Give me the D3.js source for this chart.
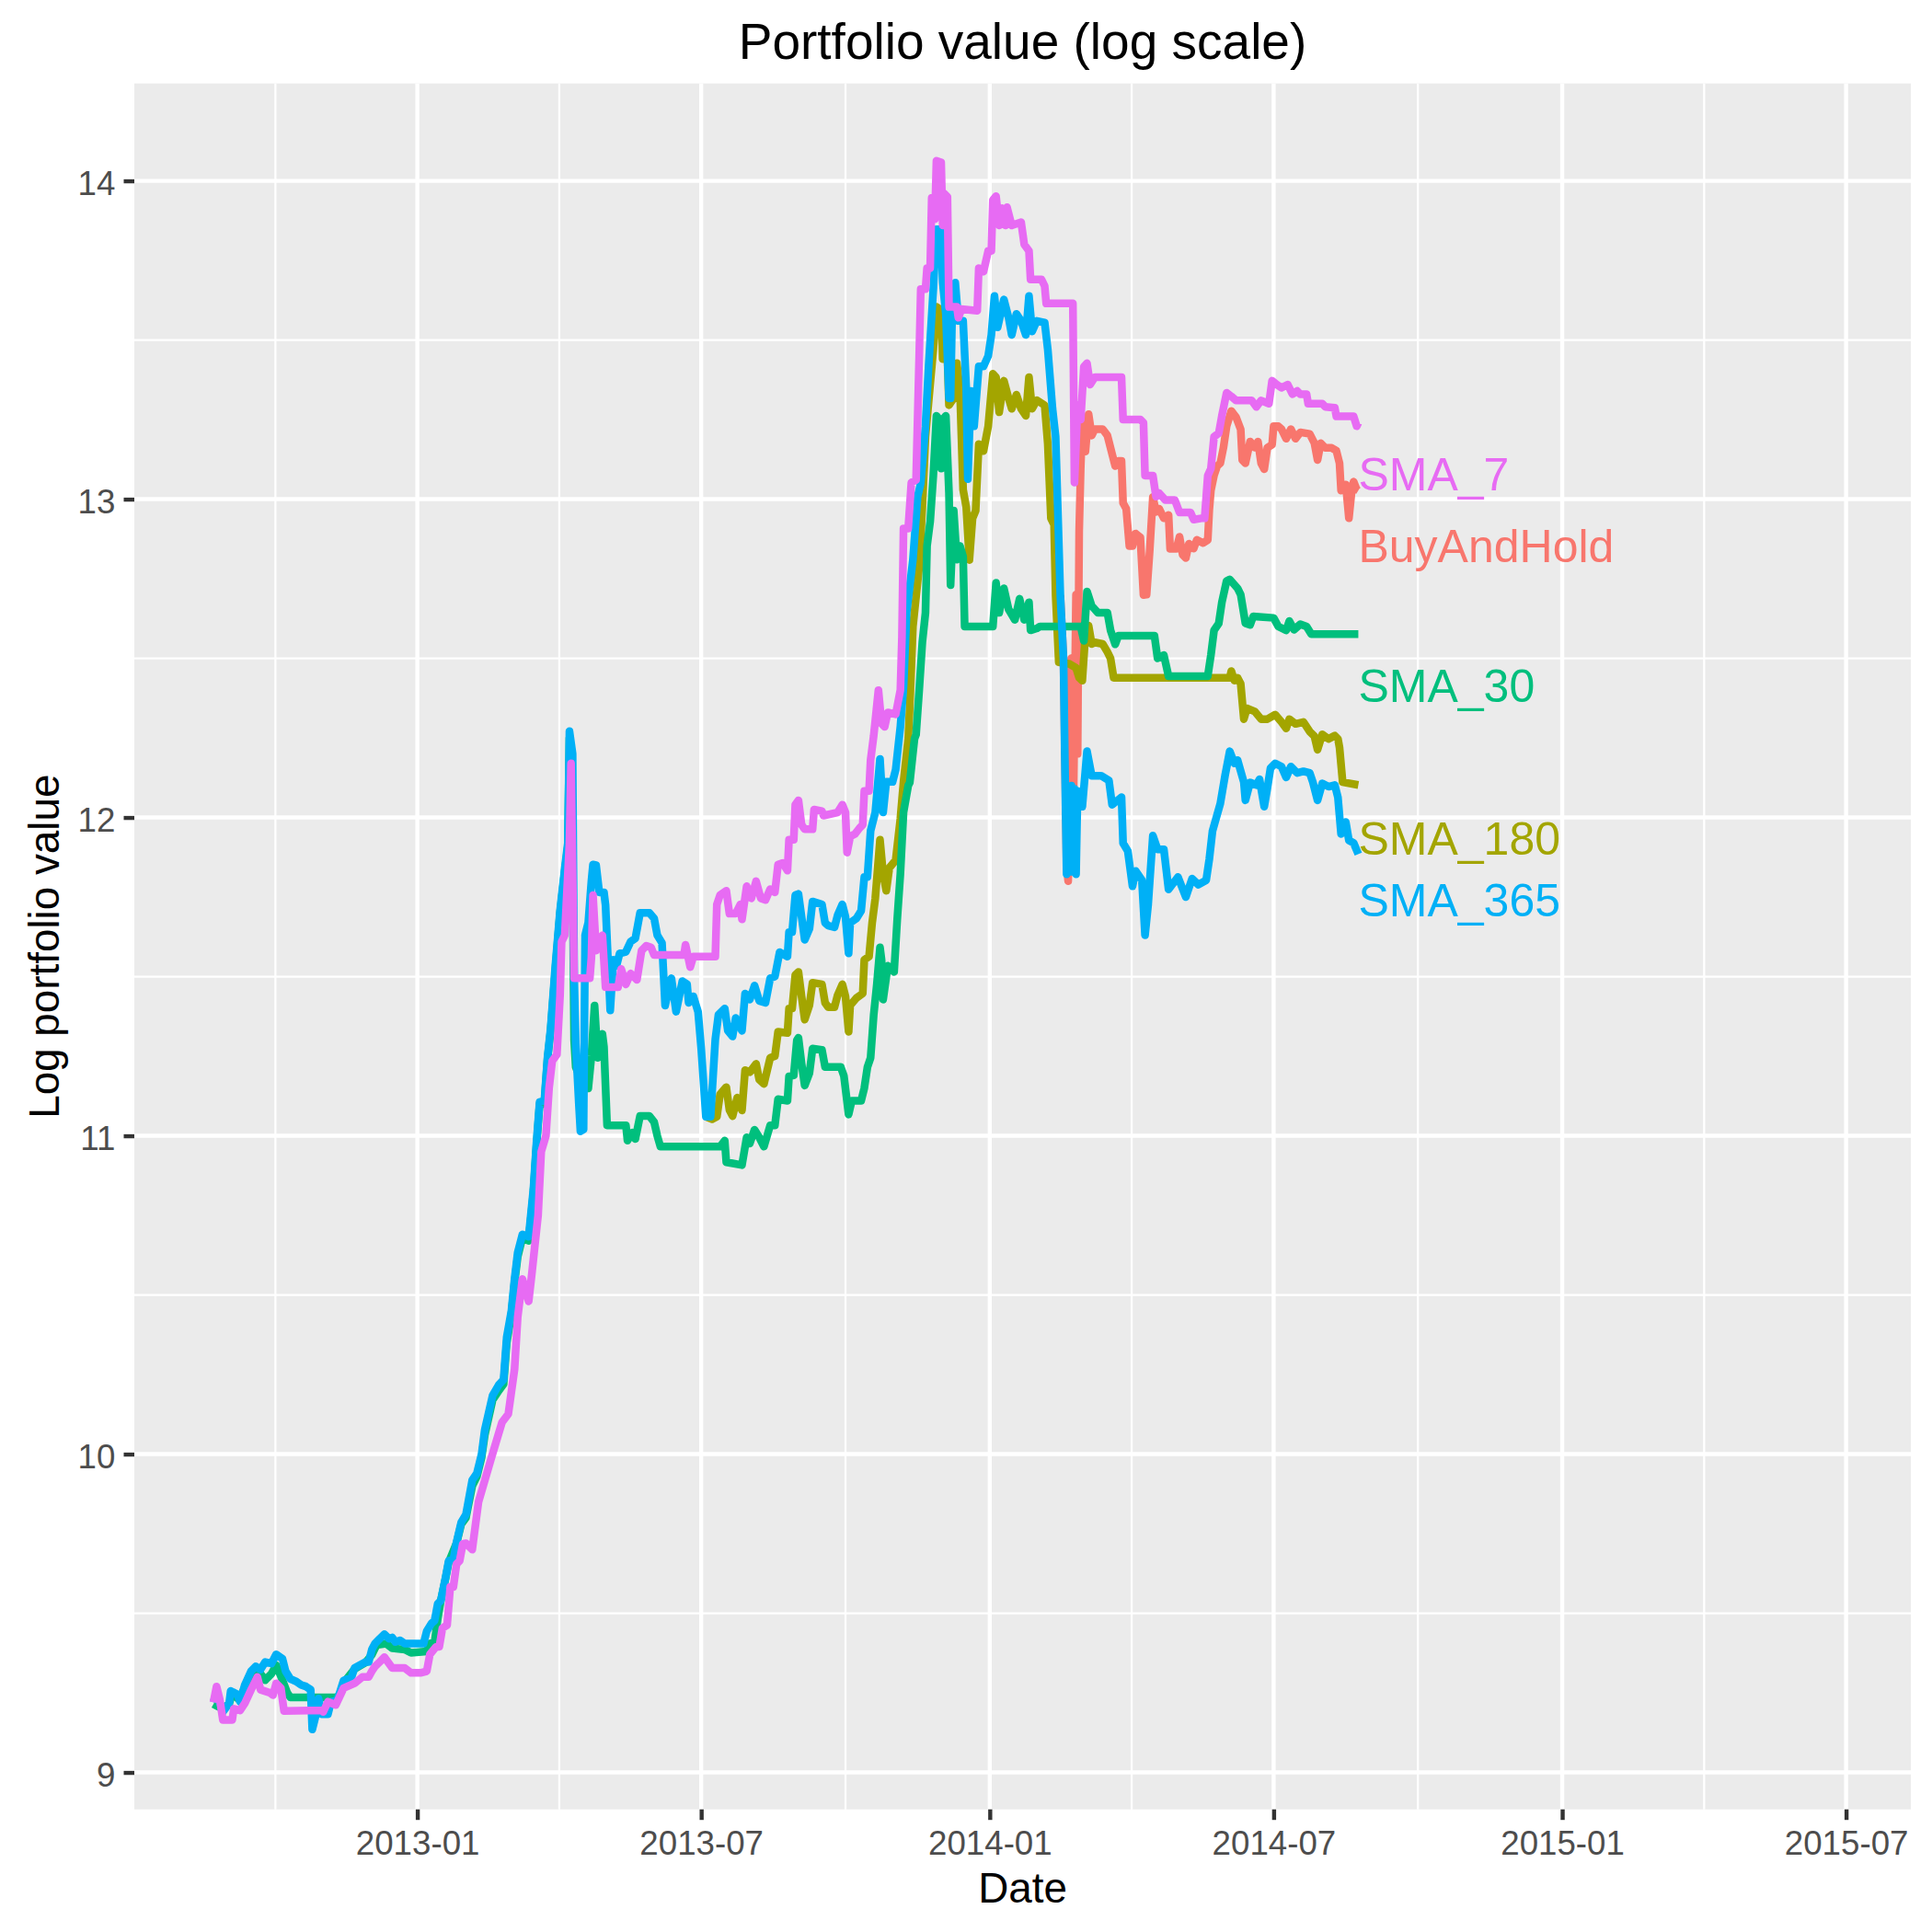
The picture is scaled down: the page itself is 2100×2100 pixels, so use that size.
<!DOCTYPE html>
<html><head><meta charset="utf-8">
<script src="https://cdn.jsdelivr.net/npm/d3@7"></script>
<style>html,body{margin:0;padding:0;background:#fff}</style>
</head><body>
<svg id="chart" width="2100" height="2100" xmlns="http://www.w3.org/2000/svg"></svg>
<script>
// ---------------- data ----------------
const seriesNames  = ["BuyAndHold", "SMA_180", "SMA_30", "SMA_365", "SMA_7"];
const seriesColors = ["#F8766D", "#A3A500", "#00BF7D", "#00B0F6", "#E76BF3"];
const labelValues  = [12.855, 11.935, 12.415, 11.74, 13.078];

const xTickDates  = ["2013-01-01", "2013-07-01", "2014-01-01", "2014-07-01", "2015-01-01", "2015-07-01"];
const xTickLabels = ["2013-01", "2013-07", "2014-01", "2014-07", "2015-01", "2015-07"];
const yTicks      = [9, 10, 11, 12, 13, 14];
const yTickLabels = ["9", "10", "11", "12", "13", "14"];
const xLimits = ["2012-07-04T13:12:00Z", "2015-08-11T07:00:00Z"];
const yLimits = [8.884, 14.306];

const titleText = "Portfolio value (log scale)";
const xTitle = "Date";
const yTitle = "Log portfolio value";

const buyAndHold = [
["2014-02-15",12.698],["2014-02-17",12.5],["2014-02-19",11.85],["2014-02-20",11.80],["2014-02-22",12.5],["2014-02-23",11.9],
["2014-02-25",12.7],["2014-02-26",12.2],["2014-02-27",12.9],["2014-02-28",13.10],["2014-03-01",13.238],["2014-03-03",13.15],
["2014-03-05",13.267],["2014-03-07",13.20],["2014-03-09",13.22],["2014-03-14",13.22],["2014-03-17",13.2],["2014-03-20",13.142],
["2014-03-22",13.104],["2014-03-24",13.12],["2014-03-26",13.12],["2014-03-27",12.988],["2014-03-29",12.97],["2014-03-31",12.853],
["2014-04-02",12.853],["2014-04-04",12.892],["2014-04-07",12.88],["2014-04-09",12.699],["2014-04-11",12.70],["2014-04-13",12.84],
["2014-04-15",13.007],["2014-04-17",12.96],["2014-04-19",12.97],["2014-04-22",12.94],["2014-04-25",12.95],["2014-04-26",12.844],
["2014-04-30",12.844],["2014-05-02",12.882],["2014-05-04",12.825],["2014-05-06",12.815],["2014-05-08",12.86],["2014-05-11",12.845],
["2014-05-13",12.872],["2014-05-17",12.862],["2014-05-20",12.872],["2014-05-21",12.969],["2014-05-22",13.027],["2014-05-24",13.075],
["2014-05-26",13.104],["2014-05-28",13.113],["2014-05-30",13.162],["2014-06-01",13.229],["2014-06-04",13.277],["2014-06-07",13.258],
["2014-06-10",13.219],["2014-06-11",13.123],["2014-06-13",13.113],["2014-06-16",13.181],["2014-06-19",13.162],["2014-06-21",13.181],
["2014-06-23",13.113],["2014-06-25",13.094],["2014-06-27",13.162],["2014-06-30",13.171],["2014-07-01",13.229],["2014-07-04",13.229],
["2014-07-06",13.22],["2014-07-09",13.19],["2014-07-12",13.22],["2014-07-15",13.19],["2014-07-18",13.21],["2014-07-24",13.205],
["2014-07-27",13.176],["2014-07-29",13.123],["2014-07-31",13.176],["2014-08-03",13.161],["2014-08-07",13.161],["2014-08-10",13.152],
["2014-08-12",13.113],["2014-08-13",13.027],["2014-08-16",13.046],["2014-08-18",12.94],["2014-08-20",13.036],["2014-08-21",13.055],
["2014-08-23",13.03],["2014-08-24",13.027]
];

const sma180 = [
["2013-07-04",11.06],["2013-07-08",11.052],["2013-07-11",11.06],["2013-07-13",11.13],["2013-07-17",11.153],["2013-07-19",11.081],
["2013-07-21",11.062],["2013-07-24",11.12],["2013-07-27",11.08],["2013-07-29",11.206],["2013-08-01",11.20],["2013-08-05",11.226],
["2013-08-07",11.177],["2013-08-10",11.163],["2013-08-14",11.245],["2013-08-17",11.25],["2013-08-19",11.327],["2013-08-25",11.323],
["2013-08-26",11.40],["2013-08-28",11.40],["2013-08-30",11.505],["2013-09-01",11.515],["2013-09-03",11.438],["2013-09-05",11.365],
["2013-09-08",11.41],["2013-09-10",11.481],["2013-09-16",11.476],["2013-09-18",11.418],["2013-09-20",11.404],["2013-09-24",11.404],
["2013-09-26",11.442],["2013-09-29",11.476],["2013-10-01",11.438],["2013-10-03",11.327],["2013-10-04",11.41],["2013-10-08",11.433],
["2013-10-12",11.447],["2013-10-13",11.553],["2013-10-16",11.563],["2013-10-18",11.669],["2013-10-20",11.746],["2013-10-23",11.93],
["2013-10-25",11.823],["2013-10-27",11.77],["2013-10-29",11.842],["2013-11-02",11.866],["2013-11-05",11.996],["2013-11-07",12.112],
["2013-11-10",12.247],["2013-11-11",12.35],["2013-11-13",12.6],["2013-11-17",12.787],["2013-11-19",12.975],["2013-11-21",13.196],
["2013-11-24",13.361],["2013-11-26",13.47],["2013-11-28",13.604],["2013-12-01",13.594],["2013-12-02",13.44],["2013-12-04",13.60],
["2013-12-06",13.295],["2013-12-09",13.317],["2013-12-11",13.427],["2013-12-13",13.34],["2013-12-15",13.03],["2013-12-17",12.975],
["2013-12-19",12.809],["2013-12-21",12.94],["2013-12-23",12.964],["2013-12-25",13.173],["2013-12-28",13.151],["2013-12-31",13.229],
["2014-01-03",13.394],["2014-01-05",13.383],["2014-01-07",13.273],["2014-01-10",13.372],["2014-01-13",13.317],["2014-01-15",13.284],
["2014-01-18",13.328],["2014-01-21",13.284],["2014-01-24",13.262],["2014-01-26",13.383],["2014-01-28",13.284],["2014-01-31",13.311],
["2014-02-05",13.295],["2014-02-07",13.173],["2014-02-09",12.94],["2014-02-11",12.92],["2014-02-12",12.698],["2014-02-14",12.488],
["2014-02-21",12.482],["2014-02-25",12.47],["2014-02-27",12.439],["2014-03-01",12.43],["2014-03-03",12.577],["2014-03-05",12.603],
["2014-03-07",12.545],["2014-03-09",12.55],["2014-03-14",12.545],["2014-03-17",12.52],["2014-03-19",12.50],["2014-03-21",12.439],
["2014-06-03",12.439],["2014-06-04",12.46],["2014-06-06",12.43],["2014-06-08",12.439],["2014-06-10",12.42],["2014-06-12",12.309],
["2014-06-14",12.343],["2014-06-19",12.333],["2014-06-23",12.309],["2014-06-27",12.309],["2014-07-02",12.323],["2014-07-06",12.30],
["2014-07-09",12.28],["2014-07-11",12.309],["2014-07-15",12.294],["2014-07-20",12.30],["2014-07-24",12.27],["2014-07-27",12.255],
["2014-07-29",12.213],["2014-08-01",12.261],["2014-08-05",12.247],["2014-08-09",12.257],["2014-08-11",12.247],["2014-08-12",12.22],
["2014-08-14",12.111],["2014-08-24",12.102]
];

const sma30 = [
["2012-08-24",9.215],["2012-08-27",9.207],["2012-08-30",9.20],["2012-09-03",9.215],["2012-09-05",9.25],["2012-09-09",9.23],
["2012-09-13",9.265],["2012-09-17",9.30],["2012-09-20",9.325],["2012-09-23",9.31],["2012-09-26",9.29],["2012-09-30",9.31],
["2012-10-03",9.337],["2012-10-07",9.29],["2012-10-10",9.251],["2012-10-12",9.236],["2012-11-11",9.236],["2012-11-13",9.25],
["2012-11-17",9.294],["2012-11-22",9.325],["2012-11-29",9.345],["2012-12-03",9.37],["2012-12-06",9.40],["2012-12-12",9.405],
["2012-12-16",9.39],["2012-12-24",9.386],["2012-12-28",9.376],["2013-01-07",9.38],["2013-01-09",9.405],["2013-01-12",9.41],
["2013-01-14",9.482],["2013-01-16",9.54],["2013-01-19",9.61],["2013-01-21",9.66],["2013-01-26",9.72],["2013-01-29",9.78],
["2013-02-01",9.80],["2013-02-05",9.90],["2013-02-08",9.93],["2013-02-11",9.99],["2013-02-13",10.06],["2013-02-18",10.17],
["2013-02-22",10.20],["2013-02-25",10.22],["2013-02-27",10.35],["2013-03-02",10.44],["2013-03-04",10.54],["2013-03-06",10.62],
["2013-03-09",10.68],["2013-03-13",10.67],["2013-03-16",10.82],["2013-03-18",10.97],["2013-03-20",11.10],["2013-03-23",11.10],
["2013-03-25",11.24],["2013-03-27",11.33],["2013-03-30",11.52],["2013-04-02",11.70],["2013-04-05",11.83],["2013-04-07",11.91],
["2013-04-08",12.25],["2013-04-09",12.2],["2013-04-10",11.8],["2013-04-11",11.30],["2013-04-12",11.216],["2013-04-15",11.18],
["2013-04-18",11.19],["2013-04-20",11.149],["2013-04-22",11.25],["2013-04-24",11.409],["2013-04-26",11.245],["2013-04-29",11.32],
["2013-04-30",11.28],["2013-05-02",11.033],["2013-05-14",11.033],["2013-05-15",10.985],["2013-05-18",11.01],["2013-05-20",10.99],
["2013-05-23",11.062],["2013-05-29",11.062],["2013-06-01",11.043],["2013-06-03",11.0],["2013-06-05",10.966],["2013-07-13",10.966],
["2013-07-16",10.985],["2013-07-17",10.917],["2013-07-27",10.908],["2013-07-30",10.995],["2013-08-01",10.976],["2013-08-04",11.019],
["2013-08-07",10.995],["2013-08-10",10.966],["2013-08-14",11.033],["2013-08-17",11.033],["2013-08-19",11.115],["2013-08-25",11.11],
["2013-08-26",11.187],["2013-08-29",11.19],["2013-08-31",11.30],["2013-09-01",11.308],["2013-09-03",11.227],["2013-09-05",11.158],
["2013-09-08",11.197],["2013-09-10",11.274],["2013-09-16",11.27],["2013-09-18",11.216],["2013-09-28",11.216],["2013-09-30",11.188],
["2013-10-03",11.067],["2013-10-05",11.11],["2013-10-11",11.11],["2013-10-13",11.15],["2013-10-15",11.216],["2013-10-17",11.245],
["2013-10-19",11.38],["2013-10-21",11.476],["2013-10-23",11.592],["2013-10-24",11.553],["2013-10-25",11.428],["2013-10-28",11.534],
["2013-11-01",11.515],["2013-11-03",11.68],["2013-11-05",11.823],["2013-11-07",12.016],["2013-11-10",12.10],["2013-11-11",12.11],
["2013-11-14",12.247],["2013-11-15",12.26],["2013-11-17",12.40],["2013-11-19",12.55],["2013-11-21",12.643],["2013-11-22",12.853],
["2013-11-24",12.93],["2013-11-26",13.074],["2013-11-28",13.262],["2013-11-30",13.25],["2013-12-01",13.096],["2013-12-02",13.25],
["2013-12-04",13.262],["2013-12-06",13.019],["2013-12-07",12.73],["2013-12-09",12.964],["2013-12-11",12.81],["2013-12-13",12.853],
["2013-12-15",12.82],["2013-12-16",12.60],["2014-01-03",12.60],["2014-01-05",12.737],["2014-01-07",12.643],["2014-01-10",12.72],
["2014-01-13",12.654],["2014-01-17",12.621],["2014-01-20",12.687],["2014-01-23",12.621],["2014-01-26",12.676],["2014-01-27",12.588],
["2014-01-31",12.594],["2014-02-02",12.60],["2014-02-28",12.60],["2014-03-02",12.555],["2014-03-04",12.71],["2014-03-07",12.665],
["2014-03-11",12.643],["2014-03-17",12.643],["2014-03-19",12.588],["2014-03-22",12.544],["2014-03-24",12.571],["2014-04-16",12.571],
["2014-04-18",12.50],["2014-04-22",12.51],["2014-04-25",12.444],["2014-05-20",12.444],["2014-05-22",12.51],["2014-05-24",12.588],
["2014-05-27",12.61],["2014-05-29",12.676],["2014-06-01",12.743],["2014-06-03",12.748],["2014-06-08",12.72],["2014-06-10",12.70],
["2014-06-13",12.61],["2014-06-16",12.605],["2014-06-18",12.632],["2014-07-01",12.627],["2014-07-04",12.60],["2014-07-09",12.588],
["2014-07-11",12.617],["2014-07-14",12.59],["2014-07-18",12.607],["2014-07-22",12.60],["2014-07-25",12.576],["2014-08-24",12.576]
];

const sma365 = [
["2012-08-24",9.22],["2012-08-26",9.25],["2012-08-30",9.19],["2012-09-03",9.217],["2012-09-04",9.256],["2012-09-08",9.246],
["2012-09-10",9.222],["2012-09-13",9.275],["2012-09-17",9.318],["2012-09-20",9.333],["2012-09-23",9.323],["2012-09-26",9.347],
["2012-09-30",9.342],["2012-10-03",9.371],["2012-10-07",9.357],["2012-10-09",9.318],["2012-10-12",9.294],["2012-10-16",9.285],
["2012-10-19",9.275],["2012-10-22",9.27],["2012-10-25",9.26],["2012-10-26",9.135],["2012-10-28",9.174],["2012-10-30",9.232],
["2012-11-01",9.183],["2012-11-05",9.183],["2012-11-07",9.222],["2012-11-11",9.227],["2012-11-15",9.289],["2012-11-20",9.299],
["2012-11-22",9.328],["2012-11-29",9.347],["2012-12-01",9.347],["2012-12-03",9.386],["2012-12-05",9.405],["2012-12-08",9.42],
["2012-12-11",9.434],["2012-12-14",9.42],["2012-12-16",9.424],["2012-12-18",9.41],["2012-12-21",9.415],["2012-12-24",9.405],
["2013-01-05",9.405],["2013-01-07",9.444],["2013-01-10",9.468],["2013-01-12",9.477],["2013-01-14",9.53],["2013-01-16",9.54],
["2013-01-19",9.612],["2013-01-21",9.665],["2013-01-24",9.67],["2013-01-26",9.723],["2013-01-29",9.786],["2013-02-01",9.81],
["2013-02-05",9.918],["2013-02-08",9.94],["2013-02-11",10.0],["2013-02-13",10.076],["2013-02-18",10.184],["2013-02-22",10.218],
["2013-02-25",10.234],["2013-02-27",10.367],["2013-03-02",10.45],["2013-03-04",10.55],["2013-03-06",10.633],["2013-03-09",10.69],
["2013-03-13",10.683],["2013-03-16",10.832],["2013-03-18",10.98],["2013-03-20",11.106],["2013-03-23",11.11],["2013-03-25",11.245],
["2013-03-27",11.336],["2013-03-30",11.534],["2013-04-02",11.707],["2013-04-05",11.84],["2013-04-07",11.92],["2013-04-08",12.271],
["2013-04-10",12.20],["2013-04-11",11.50],["2013-04-12",11.29],["2013-04-14",11.10],["2013-04-15",11.014],["2013-04-17",11.02],
["2013-04-18",11.63],["2013-04-20",11.67],["2013-04-22",11.80],["2013-04-23",11.852],["2013-04-25",11.85],["2013-04-27",11.765],
["2013-04-30",11.765],["2013-05-01",11.725],["2013-05-04",11.394],["2013-05-06",11.553],["2013-05-08",11.534],["2013-05-10",11.573],
["2013-05-14",11.578],["2013-05-17",11.61],["2013-05-20",11.62],["2013-05-23",11.70],["2013-05-29",11.70],["2013-06-01",11.683],
["2013-06-03",11.63],["2013-06-06",11.606],["2013-06-08",11.409],["2013-06-12",11.495],["2013-06-15",11.39],["2013-06-19",11.486],
["2013-06-22",11.476],["2013-06-23",11.418],["2013-06-26",11.438],["2013-06-29",11.39],["2013-07-01",11.274],["2013-07-04",11.06],
["2013-07-07",11.06],["2013-07-10",11.303],["2013-07-12",11.38],["2013-07-16",11.40],["2013-07-18",11.33],["2013-07-21",11.312],
["2013-07-23",11.37],["2013-07-27",11.33],["2013-07-29",11.447],["2013-08-01",11.428],["2013-08-04",11.472],["2013-08-07",11.424],
["2013-08-11",11.418],["2013-08-14",11.495],["2013-08-17",11.50],["2013-08-20",11.577],["2013-08-25",11.563],["2013-08-26",11.64],
["2013-08-28",11.64],["2013-08-30",11.756],["2013-09-01",11.76],["2013-09-03",11.688],["2013-09-05",11.616],["2013-09-08",11.65],
["2013-09-10",11.736],["2013-09-16",11.727],["2013-09-18",11.669],["2013-09-20",11.66],["2013-09-24",11.655],["2013-09-26",11.693],
["2013-09-29",11.727],["2013-10-01",11.688],["2013-10-03",11.573],["2013-10-04",11.669],["2013-10-08",11.683],["2013-10-11",11.707],
["2013-10-13",11.813],["2013-10-15",11.813],["2013-10-17",11.958],["2013-10-20",12.016],["2013-10-23",12.184],["2013-10-25",12.016],
["2013-10-27",12.112],["2013-10-31",12.112],["2013-11-02",12.15],["2013-11-05",12.285],["2013-11-07",12.41],["2013-11-09",12.643],
["2013-11-13",12.81],["2013-11-16",13.008],["2013-11-18",13.05],["2013-11-21",13.229],["2013-11-23",13.417],["2013-11-26",13.66],
["2013-11-28",13.848],["2013-12-01",13.848],["2013-12-02",13.68],["2013-12-04",13.582],["2013-12-06",13.317],["2013-12-07",13.317],
["2013-12-08",13.58],["2013-12-10",13.68],["2013-12-12",13.56],["2013-12-15",13.56],["2013-12-17",13.35],["2013-12-18",13.063],
["2013-12-20",13.34],["2013-12-22",13.229],["2013-12-25",13.417],["2013-12-28",13.417],["2013-12-31",13.45],["2014-01-02",13.516],
["2014-01-04",13.638],["2014-01-06",13.54],["2014-01-10",13.627],["2014-01-13",13.57],["2014-01-15",13.516],["2014-01-18",13.582],
["2014-01-21",13.56],["2014-01-24",13.516],["2014-01-26",13.638],["2014-01-28",13.527],["2014-01-31",13.56],["2014-02-05",13.555],
["2014-02-07",13.47],["2014-02-10",13.284],["2014-02-12",13.196],["2014-02-13",13.03],["2014-02-15",12.698],["2014-02-17",12.5],
["2014-02-18",12.14],["2014-02-19",11.822],["2014-02-20",12.08],["2014-02-21",11.83],["2014-02-22",12.1],["2014-02-23",11.83],
["2014-02-24",12.09],["2014-02-25",11.822],["2014-02-26",12.083],["2014-03-01",12.034],["2014-03-04",12.208],["2014-03-07",12.131],
["2014-03-13",12.131],["2014-03-18",12.116],["2014-03-20",12.04],["2014-03-26",12.064],["2014-03-27",11.919],["2014-03-30",11.895],
["2014-04-02",11.784],["2014-04-04",11.832],["2014-04-08",11.803],["2014-04-10",11.63],["2014-04-12",11.727],["2014-04-15",11.943],
["2014-04-18",11.90],["2014-04-22",11.90],["2014-04-25",11.774],["2014-05-01",11.813],["2014-05-06",11.75],["2014-05-10",11.808],
["2014-05-14",11.789],["2014-05-19",11.803],["2014-05-21",11.87],["2014-05-23",11.957],["2014-05-28",12.044],["2014-05-31",12.131],
["2014-06-03",12.208],["2014-06-06",12.17],["2014-06-08",12.18],["2014-06-12",12.111],["2014-06-13",12.054],["2014-06-16",12.11],
["2014-06-20",12.102],["2014-06-22",12.12],["2014-06-25",12.034],["2014-06-27",12.092],["2014-06-29",12.155],["2014-07-02",12.17],
["2014-07-06",12.16],["2014-07-09",12.126],["2014-07-12",12.16],["2014-07-16",12.14],["2014-07-20",12.145],["2014-07-24",12.14],
["2014-07-26",12.111],["2014-07-29",12.054],["2014-08-01",12.107],["2014-08-05",12.097],["2014-08-09",12.102],["2014-08-11",12.063],
["2014-08-13",11.948],["2014-08-16",11.986],["2014-08-18",11.928],["2014-08-21",11.92],["2014-08-24",11.885]
];

const sma7 = [
["2012-08-24",9.22],["2012-08-26",9.27],["2012-08-28",9.23],["2012-08-30",9.165],["2012-09-05",9.165],["2012-09-06",9.20],
["2012-09-10",9.195],["2012-09-13",9.217],["2012-09-17",9.26],["2012-09-21",9.30],["2012-09-23",9.26],["2012-09-29",9.25],
["2012-10-01",9.243],["2012-10-03",9.28],["2012-10-06",9.265],["2012-10-08",9.193],["2012-11-01",9.195],["2012-11-02",9.19],
["2012-11-05",9.222],["2012-11-10",9.212],["2012-11-15",9.265],["2012-11-22",9.28],["2012-11-27",9.30],["2012-12-01",9.30],
["2012-12-03",9.318],["2012-12-05",9.333],["2012-12-08",9.347],["2012-12-11",9.362],["2012-12-16",9.328],["2012-12-24",9.328],
["2012-12-28",9.313],["2013-01-03",9.313],["2013-01-07",9.318],["2013-01-09",9.371],["2013-01-13",9.395],["2013-01-15",9.395],
["2013-01-17",9.453],["2013-01-20",9.463],["2013-01-22",9.583],["2013-01-24",9.583],["2013-01-26",9.655],["2013-01-28",9.665],
["2013-01-30",9.718],["2013-02-01",9.72],["2013-02-05",9.70],["2013-02-09",9.85],["2013-02-17",9.985],["2013-02-24",10.10],
["2013-02-28",10.126],["2013-03-04",10.267],["2013-03-06",10.43],["2013-03-09",10.55],["2013-03-13",10.48],["2013-03-15",10.566],
["2013-03-19",10.75],["2013-03-21",10.95],["2013-03-24",11.0],["2013-03-26",11.15],["2013-03-28",11.235],["2013-03-31",11.255],
["2013-04-02",11.44],["2013-04-03",11.61],["2013-04-05",11.63],["2013-04-06",11.727],["2013-04-08",11.92],["2013-04-09",12.17],
["2013-04-11",11.495],["2013-04-21",11.495],["2013-04-22",11.56],["2013-04-23",11.756],["2013-04-25",11.582],["2013-04-29",11.63],
["2013-05-01",11.467],["2013-05-09",11.467],["2013-05-11",11.524],["2013-05-14",11.476],["2013-05-17",11.51],["2013-05-21",11.49],
["2013-05-24",11.582],["2013-05-27",11.597],["2013-05-30",11.592],["2013-06-01",11.568],["2013-06-20",11.568],["2013-06-21",11.60],
["2013-06-24",11.53],["2013-06-26",11.563],["2013-07-10",11.563],["2013-07-11",11.727],["2013-07-13",11.756],["2013-07-17",11.77],
["2013-07-19",11.698],["2013-07-23",11.698],["2013-07-26",11.727],["2013-07-27",11.68],["2013-07-30",11.784],["2013-08-02",11.746],
["2013-08-05",11.80],["2013-08-08",11.746],["2013-08-11",11.741],["2013-08-14",11.775],["2013-08-17",11.765],["2013-08-19",11.852],
["2013-08-22",11.857],["2013-08-25",11.833],["2013-08-26",11.93],["2013-08-29",11.93],["2013-08-30",12.04],["2013-09-01",12.054],
["2013-09-03",11.977],["2013-09-05",11.963],["2013-09-10",11.963],["2013-09-11",12.025],["2013-09-16",12.02],["2013-09-17",12.006],
["2013-09-26",12.016],["2013-09-29",12.04],["2013-10-01",12.016],["2013-10-02",11.89],["2013-10-04",11.94],["2013-10-07",11.948],
["2013-10-10",11.967],["2013-10-12",11.977],["2013-10-13",12.083],["2013-10-16",12.083],["2013-10-17",12.18],["2013-10-19",12.257],
["2013-10-22",12.40],["2013-10-24",12.295],["2013-10-26",12.285],["2013-10-28",12.33],["2013-11-02",12.324],["2013-11-05",12.40],
["2013-11-06",12.566],["2013-11-07",12.908],["2013-11-10",12.908],["2013-11-12",13.052],["2013-11-15",13.06],["2013-11-17",13.45],
["2013-11-18",13.66],["2013-11-21",13.66],["2013-11-22",13.726],["2013-11-24",13.726],["2013-11-25",13.947],["2013-11-27",13.88],
["2013-11-28",14.063],["2013-12-01",14.058],["2013-12-02",13.86],["2013-12-03",13.96],["2013-12-05",13.95],["2013-12-06",13.604],
["2013-12-11",13.604],["2013-12-12",13.57],["2013-12-14",13.597],["2013-12-24",13.592],["2013-12-25",13.726],["2013-12-28",13.715],
["2013-12-31",13.78],["2014-01-02",13.78],["2014-01-03",13.94],["2014-01-05",13.952],["2014-01-07",13.86],["2014-01-09",13.914],
["2014-01-11",13.86],["2014-01-12",13.917],["2014-01-15",13.86],["2014-01-21",13.87],["2014-01-23",13.80],["2014-01-26",13.78],
["2014-01-27",13.69],["2014-02-03",13.69],["2014-02-05",13.67],["2014-02-06",13.615],["2014-02-23",13.615],["2014-02-24",13.052],
["2014-02-26",13.295],["2014-02-28",13.25],["2014-03-02",13.416],["2014-03-04",13.427],["2014-03-06",13.36],["2014-03-09",13.383],
["2014-03-26",13.383],["2014-03-27",13.25],["2014-04-07",13.25],["2014-04-09",13.24],["2014-04-10",13.074],["2014-04-15",13.074],
["2014-04-17",13.008],["2014-04-19",13.019],["2014-04-21",13.008],["2014-04-23",12.997],["2014-04-29",12.997],["2014-05-02",12.958],
["2014-05-09",12.958],["2014-05-11",12.936],["2014-05-16",12.94],["2014-05-18",12.94],["2014-05-20",13.074],["2014-05-22",13.096],
["2014-05-24",13.196],["2014-05-27",13.207],["2014-05-29",13.262],["2014-06-01",13.334],["2014-06-04",13.323],["2014-06-07",13.31],
["2014-06-17",13.31],["2014-06-20",13.29],["2014-06-23",13.31],["2014-06-28",13.30],["2014-06-30",13.372],["2014-07-03",13.36],
["2014-07-06",13.35],["2014-07-10",13.36],["2014-07-13",13.33],["2014-07-16",13.34],["2014-07-18",13.33],["2014-07-22",13.33],
["2014-07-23",13.30],["2014-08-01",13.30],["2014-08-03",13.29],["2014-08-09",13.287],["2014-08-10",13.26],["2014-08-21",13.26],
["2014-08-23",13.229],["2014-08-24",13.24]
];

const seriesData = [buyAndHold, sma180, sma30, sma365, sma7];

// ---------------- layout ----------------
const W = 2100, H = 2100;
const panel = { left: 146, top: 90.7, right: 2077, bottom: 1966.7 };
const font = "'Liberation Sans', Arial, Helvetica, sans-serif";

const parseDay = d3.utcParse("%Y-%m-%d");
const x = d3.scaleUtc()
  .domain(xLimits.map(s => new Date(s)))
  .range([panel.left, panel.right]);
const y = d3.scaleLinear()
  .domain(yLimits)
  .range([panel.bottom, panel.top]);

const svg = d3.select("#chart");
svg.append("rect").attr("width", W).attr("height", H).attr("fill", "#FFFFFF");

svg.append("rect")
  .attr("x", panel.left).attr("y", panel.top)
  .attr("width", panel.right - panel.left).attr("height", panel.bottom - panel.top)
  .attr("fill", "#EBEBEB");

const majorX = xTickDates.map(parseDay);
// minor breaks: midpoints between majors (plus extrapolated ones), as ggplot does
const minorX = [];
const t = majorX.map(d => +d);
minorX.push(t[0] - (t[1] - t[0]) / 2);
for (let i = 0; i < t.length - 1; i++) minorX.push((t[i] + t[i + 1]) / 2);
minorX.push(t[t.length - 1] + (t[t.length - 1] - t[t.length - 2]) / 2);
const xd = x.domain().map(Number);
const minorXIn = minorX.filter(v => v >= xd[0] && v <= xd[1]).map(v => new Date(v));

const minorY = [];
for (let i = 0; i < yTicks.length - 1; i++) minorY.push((yTicks[i] + yTicks[i + 1]) / 2);
minorY.unshift(yTicks[0] - (yTicks[1] - yTicks[0]) / 2);
minorY.push(yTicks[yTicks.length - 1] + (yTicks[1] - yTicks[0]) / 2);
const minorYIn = minorY.filter(v => v >= yLimits[0] && v <= yLimits[1]);

const grid = svg.append("g");
grid.selectAll(".mnx").data(minorXIn).join("line")
  .attr("x1", d => x(d)).attr("x2", d => x(d))
  .attr("y1", panel.top).attr("y2", panel.bottom)
  .attr("stroke", "#FFFFFF").attr("stroke-width", 2.2);
grid.selectAll(".mny").data(minorYIn).join("line")
  .attr("y1", d => y(d)).attr("y2", d => y(d))
  .attr("x1", panel.left).attr("x2", panel.right)
  .attr("stroke", "#FFFFFF").attr("stroke-width", 2.2);
grid.selectAll(".mjx").data(majorX).join("line")
  .attr("x1", d => x(d)).attr("x2", d => x(d))
  .attr("y1", panel.top).attr("y2", panel.bottom)
  .attr("stroke", "#FFFFFF").attr("stroke-width", 4.4);
grid.selectAll(".mjy").data(yTicks).join("line")
  .attr("y1", d => y(d)).attr("y2", d => y(d))
  .attr("x1", panel.left).attr("x2", panel.right)
  .attr("stroke", "#FFFFFF").attr("stroke-width", 4.4);

// lines
const clipId = "panelClip";
svg.append("clipPath").attr("id", clipId).append("rect")
  .attr("x", panel.left).attr("y", panel.top)
  .attr("width", panel.right - panel.left).attr("height", panel.bottom - panel.top);

const line = d3.line()
  .x(d => x(parseDay(d[0])))
  .y(d => y(d[1]));

const linesG = svg.append("g").attr("clip-path", `url(#${clipId})`);
seriesData.forEach((data, i) => {
  linesG.append("path")
    .datum(data)
    .attr("d", line)
    .attr("fill", "none")
    .attr("stroke", seriesColors[i])
    .attr("stroke-width", 8.5)
    .attr("stroke-linejoin", "round")
    .attr("stroke-linecap", "butt");
});

// end labels
const lastDates = seriesData.map(s => parseDay(s[s.length - 1][0]));
const labelsG = svg.append("g");
seriesNames.forEach((name, i) => {
  labelsG.append("text")
    .attr("x", x(lastDates[i]))
    .attr("y", y(labelValues[i]) + 17.9)
    .attr("font-family", font)
    .attr("font-size", 50)
    .attr("fill", seriesColors[i])
    .attr("text-anchor", "start")
    .text(name);
});

// axes
const xAxis = d3.axisBottom(x)
  .tickValues(majorX)
  .tickFormat((d, i) => xTickLabels[i])
  .tickSizeInner(11.5).tickSizeOuter(0).tickPadding(9.2);
const gx = svg.append("g").attr("transform", `translate(0,${panel.bottom})`).call(xAxis);
gx.select(".domain").remove();
gx.selectAll(".tick line").attr("stroke", "#333333").attr("stroke-width", 4.4);
gx.selectAll(".tick text")
  .attr("font-family", font).attr("font-size", 36.7).attr("fill", "#4D4D4D")
  .attr("dy", null).attr("y", 49.8);

const yAxis = d3.axisLeft(y)
  .tickValues(yTicks)
  .tickFormat((d, i) => yTickLabels[i])
  .tickSizeInner(11.5).tickSizeOuter(0).tickPadding(9.2);
const gy = svg.append("g").attr("transform", `translate(${panel.left},0)`).call(yAxis);
gy.select(".domain").remove();
gy.selectAll(".tick line").attr("stroke", "#333333").attr("stroke-width", 4.4);
gy.selectAll(".tick text")
  .attr("font-family", font).attr("font-size", 36.7).attr("fill", "#4D4D4D")
  .attr("dy", null).attr("y", 14.5);

// titles
svg.append("text")
  .attr("x", (panel.left + panel.right) / 2).attr("y", 63.7)
  .attr("text-anchor", "middle").attr("font-family", font).attr("font-size", 55)
  .attr("fill", "#000000").text(titleText);

svg.append("text")
  .attr("x", (panel.left + panel.right) / 2).attr("y", 2068)
  .attr("text-anchor", "middle").attr("font-family", font).attr("font-size", 45.8)
  .attr("fill", "#000000").text(xTitle);

svg.append("text")
  .attr("transform", `translate(64,${(panel.top + panel.bottom) / 2}) rotate(-90)`)
  .attr("text-anchor", "middle").attr("font-family", font).attr("font-size", 45.8)
  .attr("fill", "#000000").text(yTitle);
</script>
</body></html>
